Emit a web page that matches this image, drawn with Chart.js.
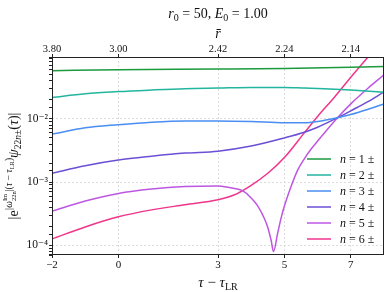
<!DOCTYPE html>
<html>
<head>
<meta charset="utf-8">
<script src="https://cdn.jsdelivr.net/npm/chart.js@4/dist/chart.umd.min.js"></script>
<style>
html, body { margin: 0; padding: 0; background: #fff; }
#wrap { width: 389px; height: 292px; }
</style>
</head>
<body>
<div id="wrap"><canvas id="c"></canvas></div>
<script>
// tick positions on tau - tau_LR and the matching r-bar labels on the top axis
var xTicks = [-2, 0, 3, 5, 7];
var rBarLabels = ['3.80', '3.00', '2.42', '2.24', '2.14'];

var seriesLabels = ['n = 1 ±', 'n = 2 ±', 'n = 3 ±', 'n = 4 ±', 'n = 5 ±', 'n = 6 ±'];
var seriesColors = ['#1b9a3e', '#22b59f', '#4a8ef2', '#6b4fd6', '#bd57e2', '#f0358c'];

// values
var x1 = [-2, 0, 3, 5, 8];
var y1 = [0.0582, 0.0603, 0.0617, 0.0631, 0.0676];

var x2 = [-2, -1, 0, 1, 2, 3, 4, 5, 5.6, 6.2, 7, 8];
var y2 = [0.0219, 0.0251, 0.0272, 0.0288, 0.0302, 0.0309, 0.0316, 0.0316, 0.0309, 0.0302, 0.0288, 0.0266];

var x3 = [-2, -1, 0, 1, 2, 3, 4, 5, 5.6, 6, 6.6, 7, 7.5, 8];
var y3 = [0.00575, 0.00724, 0.00813, 0.00891, 0.00933, 0.00933, 0.00912, 0.00871, 0.00871, 0.00912, 0.01047, 0.01175, 0.01413, 0.01738];

var x4 = [-2, -1, 0, 1, 2, 3, 4, 5, 5.6, 6, 6.6, 7, 7.5, 8];
var y4 = [0.00138, 0.00182, 0.00224, 0.00257, 0.00288, 0.00309, 0.00372, 0.00501, 0.00617, 0.00741, 0.01047, 0.01349, 0.01862, 0.02692];

var x5 = [-2, -1, 0, 1, 2, 3, 3.5, 3.75, 4, 4.2, 4.4, 4.5, 4.6, 4.67, 4.8, 4.9, 5, 5.2, 5.4, 5.6, 5.8, 6, 6.6, 7, 7.5, 8];
var y5 = [0.000347, 0.000501, 0.000661, 0.000776, 0.000851, 0.000871, 0.000794, 0.000724, 0.000562, 0.000417, 0.000263, 0.000191, 0.000120, 0.0000794, 0.000158, 0.000269, 0.000417, 0.000851, 0.00155, 0.00234, 0.00331, 0.00447, 0.01047, 0.01738, 0.0302, 0.0501];

var x6 = [-2, -1, 0, 1, 2, 3, 3.5, 4, 4.5, 5, 5.6, 6, 6.5, 7, 7.5, 8];
var y6 = [0.000126, 0.000195, 0.000282, 0.000363, 0.000437, 0.000525, 0.000631, 0.000891, 0.00138, 0.00245, 0.00603, 0.01096, 0.0219, 0.0457, 0.0933, 0.1905];

var xs = [x1, x2, x3, x4, x5, x6];
var ys = [y1, y2, y3, y4, y5, y6];

var SERIF = '"Liberation Serif", "DejaVu Serif", serif';

function isDecade(v) {
    var l = Math.log10(v);
    return Math.abs(l - Math.round(l)) < 1e-6;
}

// text with sub/superscripts: [text, size, dy, italic, noAdvance]
function richWidth(ctx, parts) {
    var w = 0;
    parts.forEach(function(p) {
        ctx.font = (p[3] ? 'italic ' : '') + p[1] + 'px ' + SERIF;
        if (!p[4]) w += ctx.measureText(p[0]).width;
    });
    return w;
}
function drawRich(ctx, parts, x, y) {
    var cx = x - richWidth(ctx, parts) / 2;
    parts.forEach(function(p) {
        ctx.font = (p[3] ? 'italic ' : '') + p[1] + 'px ' + SERIF;
        ctx.fillText(p[0], cx, y + p[2]);
        if (!p[4]) cx += ctx.measureText(p[0]).width;
    });
}

var decorations = {
    id: 'decorations',
    afterDraw: function(chart) {
        var ctx = chart.ctx, a = chart.chartArea;
        ctx.save();
        ctx.strokeStyle = '#222';
        ctx.lineWidth = 1;
        ctx.strokeRect(a.left + 0.5, a.top + 0.5, a.right - a.left - 1, a.bottom - a.top - 1);

        ctx.fillStyle = '#111';
        ctx.textBaseline = 'alphabetic';
        var mid = (a.left + a.right) / 2;
        drawRich(ctx, [['r', 14, 0, true], ['0', 10, 3], [' = 50, ', 14, 0], ['E', 14, 0, true], ['0', 10, 3], [' = 1.00', 14, 0]], mid, 18);
        drawRich(ctx, [['r\u0304', 14, 0, true]], mid, 38);
        drawRich(ctx, [['τ', 15, 0, true], [' − ', 15, 0], ['τ', 15, 0, true], ['LR', 10, 3]], mid, 287);

        ctx.save();
        ctx.translate(18, (a.top + a.bottom) / 2 + 10);
        ctx.rotate(-Math.PI / 2);
        drawRich(ctx, [
            ['|e', 14, 0], ['|ω', 9.5, -6.5, true], ['Im', 6.5, -11.5, false, true], ['22n', 6.5, -2, false], ['|(', 9.5, -6.5],
            ['τ', 9.5, -6.5, true], [' − ', 9.5, -6.5], ['τ', 9.5, -6.5, true], ['LR', 6.5, -4.5], [')', 9.5, -6.5],
            ['ψ', 14, 0, true], ['22', 9.5, 3], ['n', 9.5, 3, true], ['±', 9.5, 3], ['(', 14, 0], ['τ', 14, 0, true], [')|', 14, 0]
        ], 0, 0);
        ctx.restore();

        // legend, bottom right inside the axes
        var lx = a.right - 77, ly = a.bottom - 96;
        chart.data.datasets.forEach(function(ds, i) {
            var y = ly + i * 16;
            ctx.strokeStyle = ds.borderColor;
            ctx.lineWidth = 1.5;
            ctx.beginPath();
            ctx.moveTo(lx, y);
            ctx.lineTo(lx + 24, y);
            ctx.stroke();
            ctx.textBaseline = 'middle';
            ctx.font = 'italic 12px ' + SERIF;
            var t = ds.label;
            ctx.fillText(t.charAt(0), lx + 33, y + 1);
            var w = ctx.measureText(t.charAt(0)).width;
            ctx.font = '12px ' + SERIF;
            ctx.fillText(t.slice(1), lx + 33 + w, y + 1);
        });
        ctx.restore();
    }
};

var datasets = xs.map(function(xv, i) {
    return {
        label: seriesLabels[i],
        data: xv.map(function(x, j) { return { x: x, y: ys[i][j] }; }),
        borderColor: seriesColors[i],
        backgroundColor: seriesColors[i],
        borderWidth: 1.5,
        pointRadius: 0,
        cubicInterpolationMode: 'monotone',
        xAxisID: 'x',
        yAxisID: 'y'
    };
});

new Chart(document.getElementById('c'), {
    type: 'line',
    data: { datasets: datasets },
    options: {
        responsive: true,
        maintainAspectRatio: false,
        animation: false,
        layout: { padding: { left: 0, right: 5, top: 0, bottom: 0 } },
        plugins: { legend: { display: false }, tooltip: { enabled: false } },
        scales: {
            x: {
                type: 'linear', position: 'bottom', min: -2, max: 8,
                afterBuildTicks: function(s) { s.ticks = xTicks.map(function(v) { return { value: v }; }); },
                afterFit: function(s) { s.height = 37; },
                ticks: { color: '#111', font: { family: SERIF, size: 11 }, padding: 1, maxRotation: 0,
                    callback: function(v) { return v < 0 ? '−' + Math.abs(v) : String(v); } },
                grid: { color: '#dcdcdc', tickColor: '#222', tickLength: 3, tickBorderDash: [] },
                border: { display: false, dash: [2, 2] }
            },
            x2: {
                type: 'linear', position: 'top', min: -2, max: 8,
                afterBuildTicks: function(s) { s.ticks = xTicks.map(function(v) { return { value: v }; }); },
                afterFit: function(s) { s.height = 57; },
                ticks: { color: '#111', font: { family: SERIF, size: 10.5 }, padding: -2, maxRotation: 0,
                    callback: function(v, i) { return rBarLabels[i]; } },
                grid: { drawOnChartArea: false, tickColor: '#222', tickLength: 3 },
                border: { display: false }
            },
            y: {
                type: 'logarithmic', min: 7.2e-5, max: 0.096,
                afterFit: function(s) { s.width = 52; },
                ticks: { color: '#111', font: { family: SERIF, size: 11.5 }, padding: 1, autoSkip: false,
                    callback: function(v) {
                        if (!isDecade(v)) return '';
                        var e = Math.round(Math.log10(v));
                        var sup = { '2': '²', '3': '³', '4': '⁴' };
                        return '10⁻' + (sup[String(-e)] || String(-e));
                    } },
                grid: {
                    color: function(c) { return c.tick && isDecade(c.tick.value) ? '#dcdcdc' : 'rgba(0,0,0,0)'; },
                    tickColor: '#222', tickLength: 3, tickBorderDash: []
                },
                border: { display: false, dash: [2, 2] }
            }
        }
    },
    plugins: [decorations]
});
</script>
</body>
</html>
